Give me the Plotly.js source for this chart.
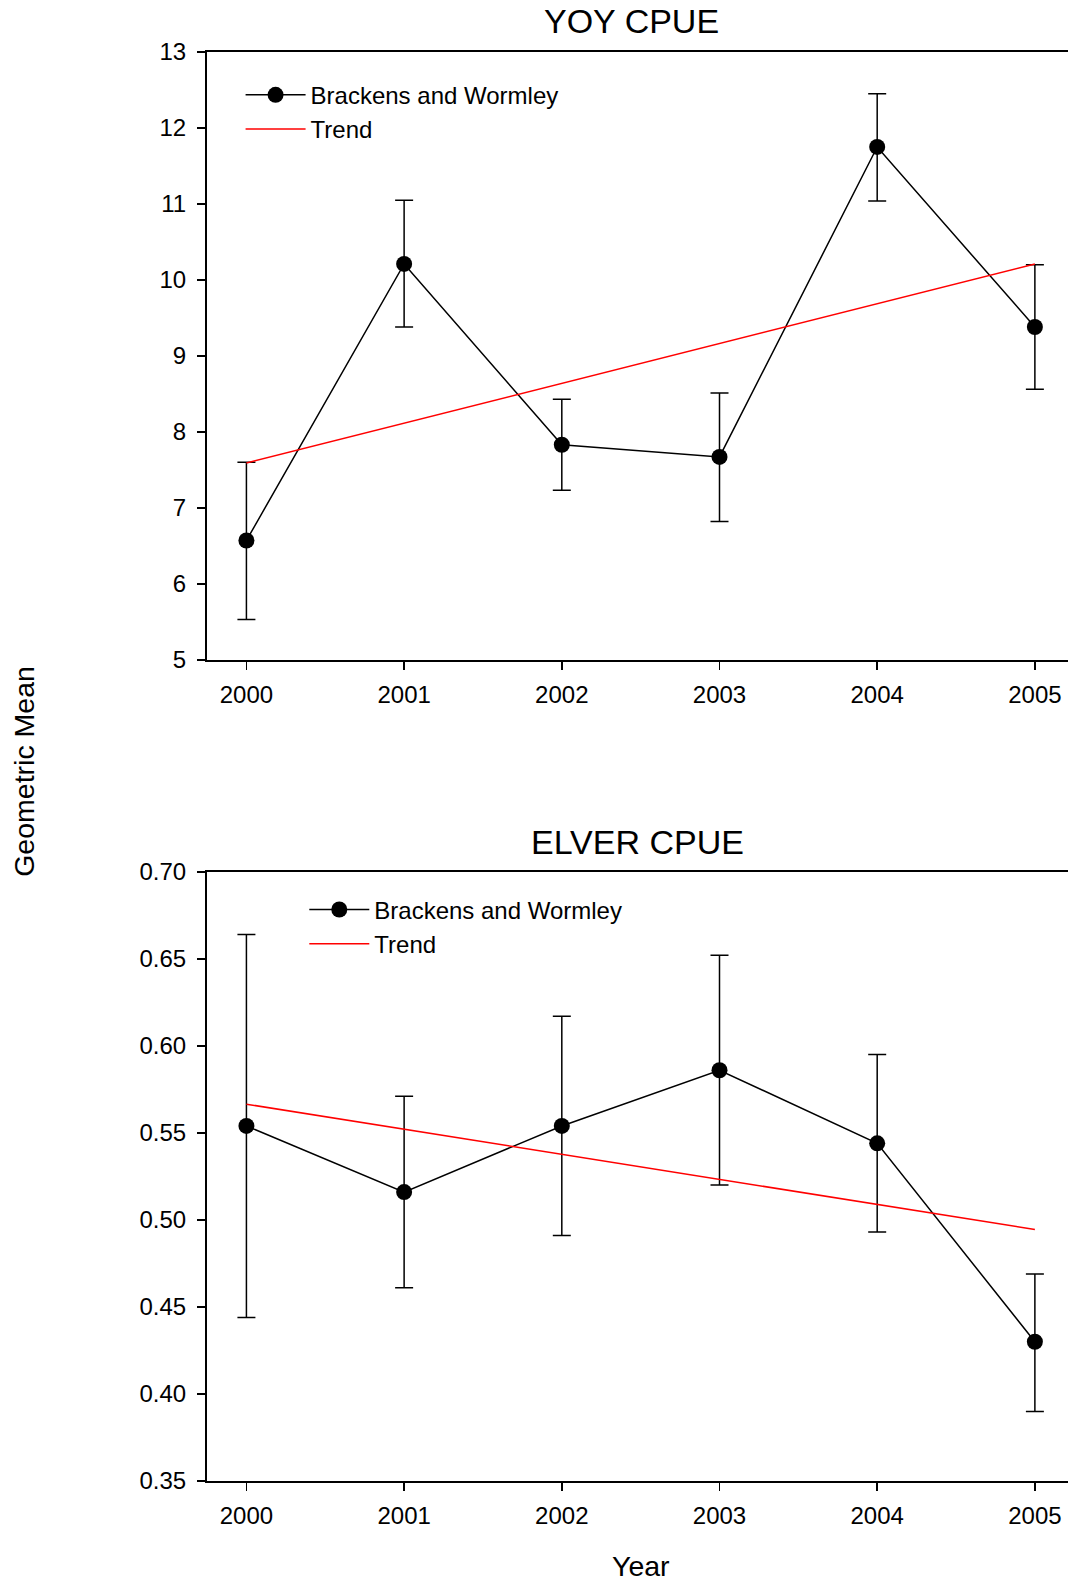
<!DOCTYPE html>
<html>
<head>
<meta charset="utf-8">
<script src="https://cdn.plot.ly/plotly-3.0.1.min.js"></script>
<style>
  html, body { margin: 0; padding: 0; background: #fff; }
  #chart { width: 1068px; height: 1581px; }
</style>
</head>
<body>
<div id="chart"></div>
<script>
// Values
const years = [2000, 2001, 2002, 2003, 2004, 2005];

// YOY CPUE (geometric mean with upper / lower limits)
const yoyMean  = [6.57, 10.21, 7.83, 7.67, 11.75, 9.38];
const yoyUpper = [7.60, 11.05, 8.43, 8.51, 12.45, 10.20];
const yoyLower = [5.53, 9.38, 7.23, 6.82, 11.04, 8.56];

// ELVER CPUE
const elverMean  = [0.554, 0.516, 0.554, 0.586, 0.544, 0.430];
const elverUpper = [0.664, 0.571, 0.617, 0.652, 0.595, 0.469];
const elverLower = [0.444, 0.461, 0.491, 0.520, 0.493, 0.390];

// Trend line end points
const trendYears = [2000, 2005];
const yoyTrend   = [7.59, 10.21];
const elverTrend = [0.5665, 0.4945];

const seriesName = 'Brackens and Wormley';
const trendName = 'Trend';

const FONT = 'Liberation Sans, Arial, sans-serif';

// Build one error bar object from the upper / lower limits
function errorBars(mean, upper, lower) {
    return {
        type: 'data',
        symmetric: false,
        array: upper.map((u, i) => u - mean[i]),
        arrayminus: lower.map((l, i) => mean[i] - l),
        color: 'black',
        thickness: 1.5,
        width: 9
    };
}

function dataTrace(mean, upper, lower, xa, ya, legend) {
    return {
        x: years, y: mean,
        type: 'scatter', mode: 'lines+markers',
        name: seriesName,
        line: { color: 'black', width: 1.5 },
        marker: { color: 'black', size: 16, symbol: 'circle' },
        error_y: errorBars(mean, upper, lower),
        xaxis: xa, yaxis: ya, legend: legend
    };
}

function trendTrace(values, xa, ya, legend) {
    return {
        x: trendYears, y: values,
        type: 'scatter', mode: 'lines',
        name: trendName,
        line: { color: '#ff0000', width: 1.5 },
        xaxis: xa, yaxis: ya, legend: legend
    };
}

const traces = [
    dataTrace(yoyMean, yoyUpper, yoyLower, 'x', 'y', 'legend'),
    trendTrace(yoyTrend, 'x', 'y', 'legend'),
    dataTrace(elverMean, elverUpper, elverLower, 'x2', 'y2', 'legend2'),
    trendTrace(elverTrend, 'x2', 'y2', 'legend2')
];

// Shared axis styling
const tickFont = { family: FONT, size: 24, color: 'black' };
const xBase = {
    range: [1999.75, 2005.21],
    tickmode: 'linear', tick0: 2000, dtick: 1,
    ticks: 'outside', ticklen: 8, tickwidth: 1.5, tickcolor: 'black',
    showline: true, linecolor: 'black', linewidth: 2, mirror: true,
    showgrid: false, zeroline: false,
    tickfont: tickFont,
    ticklabelstandoff: 4,
    domain: [0, 1]
};
const yBase = {
    ticks: 'outside', ticklen: 8, tickwidth: 1.5, tickcolor: 'black',
    showline: true, linecolor: 'black', linewidth: 2, mirror: false,
    showgrid: false, zeroline: false,
    tickfont: tickFont,
    ticklabelstandoff: 6
};

const legendBase = {
    font: { family: FONT, size: 24, color: 'black' },
    bgcolor: 'rgba(0,0,0,0)',
    borderwidth: 0,
    xanchor: 'left', yanchor: 'top',
    itemwidth: 60,
    tracegroupgap: 0
};

const titleFont = { family: FONT, size: 34, color: 'black' };
const axisTitleFont = { family: FONT, size: 28.5, color: 'black' };

const layout = {
    width: 1068,
    height: 1581,
    margin: { l: 207, r: 0, t: 52, b: 100 },
    paper_bgcolor: 'white',
    plot_bgcolor: 'white',
    showlegend: true,
    xaxis: Object.assign({}, xBase, { anchor: 'y' }),
    yaxis: Object.assign({}, yBase, { domain: [0.5747, 1], range: [5, 13], dtick: 1, tick0: 5, anchor: 'x' }),
    xaxis2: Object.assign({}, xBase, { anchor: 'y2' }),
    yaxis2: Object.assign({}, yBase, { domain: [0, 0.4263], range: [0.35, 0.70], dtick: 0.05, tick0: 0.35, tickformat: '.2f', anchor: 'x2' }),
    legend: Object.assign({}, legendBase, { x: 0.039, y: 0.9855 }),
    legend2: Object.assign({}, legendBase, { x: 0.113, y: 0.4154 }),
    annotations: [
        { text: 'YOY CPUE', xref: 'paper', yref: 'paper', x: 0.493, y: 1.022, xanchor: 'center', yanchor: 'middle', showarrow: false, font: titleFont },
        { text: 'ELVER CPUE', xref: 'paper', yref: 'paper', x: 0.5, y: 0.4473, xanchor: 'center', yanchor: 'middle', showarrow: false, font: titleFont },
        { text: 'Geometric Mean', xref: 'paper', yref: 'paper', x: -0.2125, y: 0.4963, xanchor: 'center', yanchor: 'middle', textangle: -90, showarrow: false, font: axisTitleFont },
        { text: 'Year', xref: 'paper', yref: 'paper', x: 0.504, y: -0.0595, xanchor: 'center', yanchor: 'middle', showarrow: false, font: axisTitleFont }
    ]
};

Plotly.newPlot('chart', traces, layout, { staticPlot: true });
</script>
</body>
</html>
